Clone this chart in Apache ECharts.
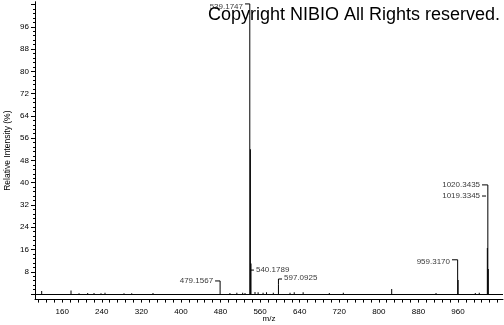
<!DOCTYPE html>
<html>
<head>
<meta charset="utf-8">
<script src="https://cdn.jsdelivr.net/npm/echarts@6/dist/echarts.min.js"></script>
<style>
html,body{margin:0;padding:0;background:#fff;}
#c{width:504px;height:325px;}
</style>
</head>
<body>
<div id="c"></div>
<script>
// ---- data ----
const mzValues = [118.5, 177.8, 194, 211.5, 224.3, 238.4, 246.5, 284.9, 300.5, 343.5,
  479.16, 499, 513, 524.8, 529.5, 539.17, 540.4, 541.6, 549.7, 556, 566, 573, 586.7,
  597.09, 620.5, 629, 647, 699.9, 728.2, 826, 915.6, 959.32, 960.3, 995, 1003,
  1019.33, 1020.34, 1021.3];
const intensities = [1.1, 1.3, 0.3, 0.4, 0.4, 0.3, 0.5, 0.3, 0.3, 0.4,
  1.5, 0.4, 0.5, 0.5, 0.4, 100, 52, 11, 0.7, 0.6, 0.5, 0.6, 0.5,
  3.5, 0.5, 0.6, 0.6, 0.4, 0.5, 1.8, 0.4, 12.3, 5, 0.4, 0.5,
  16.5, 39.2, 9];

// peak annotations: label text, anchor m/z, anchor intensity, side
const annText = ["539.1747", "479.1567", "540.1789", "597.0925", "959.3170", "1020.3435", "1019.3345"];
const annMz   = [529.5, 469, 547.6, 604.3, 947.9, 1008.6, 1008.6];
const annInt  = [103.2, 4.7, 8.6, 6.0, 11.6, 39.2, 35.2];
const annSide = ["left", "left", "right", "right", "left", "left", "left"];

// leader lines for the annotations (m/z, intensity pairs)
const leaders = [
  [[529.5, 104.2], [539.17, 104.2], [539.17, 100]],
  [[469, 4.7], [479.16, 4.7], [479.16, 1.5]],
  [[541.6, 8.6], [547.6, 8.6]],
  [[597.09, 3.5], [597.09, 5.4], [604.3, 5.4]],
  [[947.9, 12.3], [959.32, 12.3]],
  [[1008.6, 39.2], [1020.34, 39.2]],
  [[1008.6, 35.2], [1016.7, 35.2]]
];

// axis ticks
const xTickLabels = [160, 240, 320, 400, 480, 560, 640, 720, 800, 880, 960];
const xTickStep = 16;
const yTickLabels = [8, 16, 24, 32, 40, 48, 56, 64, 72, 80, 88, 96];
const yMajorStep = 8;
const yMinorStep = 1.6;

const X_MIN = 105, X_MAX = 1051, Y_MIN = -2, Y_MAX = 105;

const xTicks = [];
for (let v = 112; v <= X_MAX; v += xTickStep) xTicks.push(v);
const yMajor = [];
for (let v = 0; v <= Y_MAX; v += yMajorStep) yMajor.push(v);
const yMinor = [];
for (let i = 0; i * yMinorStep <= Y_MAX; i++) {
  const v = Math.round(i * yMinorStep * 10) / 10;
  if (i % 5 !== 0) yMinor.push(v);
}

const FONT = 'Liberation Sans';
const chart = echarts.init(document.getElementById('c'), null, {renderer: 'canvas'});

const spectrum = mzValues.map((m, i) => [m, intensities[i]]);
const annData = annText.map((t, i) => ({
  value: [annMz[i], annInt[i]],
  label: {position: annSide[i]},
  name: t
}));

chart.setOption({
  animation: false,
  backgroundColor: '#fff',
  title: {
    text: 'Copyright NIBIO All Rights reserved.',
    left: 203, top: 1,
    textStyle: {fontFamily: FONT, fontSize: 18, fontWeight: 'normal', color: '#000'}
  },
  grid: {left: 35, right: 1, top: 1.7, bottom: 25.4, containLabel: false, outerBoundsMode: 'none'},
  xAxis: [{
    type: 'value', min: X_MIN, max: X_MAX,
    name: 'm/z', nameLocation: 'middle', nameGap: 15, nameMoveOverlap: false,
    nameTextStyle: {fontFamily: FONT, fontSize: 8, color: '#000'},
    axisLine: {show: true, onZero: false, lineStyle: {color: '#000', width: 1}},
    axisTick: {show: true, customValues: xTicks, length: 3, lineStyle: {color: '#000'}},
    axisLabel: {customValues: xTickLabels, fontFamily: FONT, fontSize: 8, color: '#000', margin: 8},
    splitLine: {show: false}
  }],
  yAxis: [{
    type: 'value', min: Y_MIN, max: Y_MAX,
    name: 'Relative Intensity (%)', nameLocation: 'middle', nameGap: 23, nameMoveOverlap: false,
    nameTextStyle: {fontFamily: FONT, fontSize: 8.5, color: '#000'},
    axisLine: {show: true, onZero: false, lineStyle: {color: '#000', width: 1}},
    axisTick: {show: true, customValues: yMajor, length: 4, lineStyle: {color: '#000'}},
    axisLabel: {customValues: yTickLabels, fontFamily: FONT, fontSize: 8, color: '#000', margin: 6},
    splitLine: {show: false}
  }, {
    type: 'value', min: Y_MIN, max: Y_MAX, position: 'left',
    axisLine: {show: false},
    axisTick: {show: true, customValues: yMinor, length: 2, lineStyle: {color: '#000'}},
    axisLabel: {show: false},
    splitLine: {show: false}
  }],
  series: [{
    type: 'bar',
    data: spectrum,
    barWidth: 1,
    barGap: '-100%',
    itemStyle: {color: '#000'},
    silent: true,
    markLine: {
      silent: true, symbol: 'none',
      label: {show: false},
      lineStyle: {color: '#000', width: 1, type: 'solid'},
      data: [{yAxis: 0}]
    }
  }, {
    type: 'lines',
    coordinateSystem: 'cartesian2d',
    polyline: true,
    silent: true,
    lineStyle: {color: '#000', width: 1, opacity: 1},
    data: leaders.map(c => ({coords: c}))
  }, {
    type: 'scatter',
    symbolSize: 0,
    silent: true,
    data: annData,
    label: {
      show: true, distance: 2,
      formatter: p => p.name,
      fontFamily: FONT, fontSize: 8, color: '#000'
    }
  }]
});
</script>
</body>
</html>
